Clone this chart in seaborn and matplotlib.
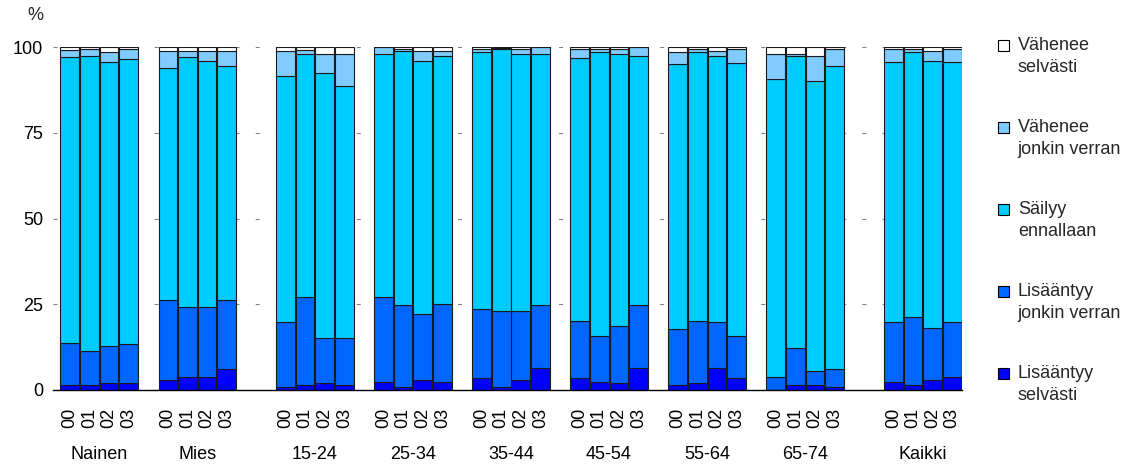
import numpy as np
import pandas as pd
import matplotlib
matplotlib.use("Agg")
import matplotlib.pyplot as plt
import matplotlib.transforms as mtransforms
from matplotlib.patches import Rectangle, Patch
from matplotlib.legend_handler import HandlerPatch
import seaborn as sns

# ---------------- data ----------------
groups = ["Nainen", "Mies", "15-24", "25-34", "35-44", "45-54", "55-64", "65-74", "Kaikki"]
years = ["00", "01", "02", "03"]

series_names = ["Lisääntyy\nselvästi", "Lisääntyy\njonkin verran", "Säilyy\nennallaan",
                "Vähenee\njonkin verran", "Vähenee\nselvästi"]

lisaantyy_selvasti = [1.5, 1.5, 1.9, 1.9,   2.9, 3.8, 3.8, 6.0,   0.8, 1.5, 1.9, 1.5,
                      2.3, 0.8, 2.9, 2.3,   3.4, 0.8, 2.9, 6.4,   3.4, 2.3, 1.9, 6.4,
                      1.5, 1.9, 6.4, 3.4,   0.0, 1.5, 1.5, 0.8,   2.4, 1.5, 2.9, 3.8]
lisaantyy_jonkin = [12.3, 9.9, 10.9, 11.4,  23.2, 20.4, 20.4, 20.1,  18.9, 25.7, 13.4, 13.8,
                    24.9, 24.0, 19.4, 22.9,  20.3, 22.3, 20.2, 18.3,  16.7, 13.4, 16.8, 18.3,
                    16.2, 18.2, 13.3, 12.3,  3.8, 10.8, 4.0, 5.2,     17.3, 19.7, 15.3, 15.9]
sailyy_ennallaan = [83.2, 86.0, 82.7, 83.1,  67.8, 72.8, 71.7, 68.4,  71.7, 70.7, 77.2, 73.3,
                    70.8, 74.0, 73.6, 72.2,  74.7, 76.2, 74.9, 73.3,  76.8, 82.7, 79.2, 72.7,
                    77.3, 78.3, 77.7, 79.7,  86.8, 85.1, 84.5, 88.5,  75.8, 77.2, 77.7, 75.8]
vahenee_jonkin = [2.1, 1.9, 2.9, 2.9,  5.0, 1.9, 3.0, 4.4,  7.4, 1.2, 5.5, 9.4,
                  2.0, 0.6, 2.9, 1.5,  0.9, 0.4, 1.3, 2.0,  2.4, 0.9, 1.4, 2.6,
                  3.5, 0.9, 1.5, 3.9,  7.3, 0.5, 7.4, 5.0,  3.8, 0.9, 3.0, 3.8]
vahenee_selvasti = [0.9, 0.7, 1.6, 0.7,  1.1, 1.1, 1.1, 1.1,  1.2, 0.9, 2.0, 2.0,
                    0.0, 0.6, 1.2, 1.1,  0.7, 0.3, 0.7, 0.0,  0.7, 0.7, 0.7, 0.0,
                    1.5, 0.7, 1.1, 0.7,  2.1, 2.1, 2.6, 0.5,  0.7, 0.7, 1.1, 0.7]

colors = ["#0000FF", "#0066FF", "#00CCFF", "#80CCFF", "#FFFFFF"]

# ---------------- layout ----------------
sns.set_theme(style="white")
plt.rcParams["font.family"] = ["Liberation Sans", "DejaVu Sans"]

W, H = 1127, 467
fig = plt.figure(figsize=(W / 100, H / 100), dpi=100)
ax = fig.add_axes([53 / W, 77 / H, (962 - 53) / W, 343 / H])

extra_gap_after = {"Mies", "65-74"}
positions, centers = [], []
slot = 0
for g in groups:
    positions += [slot + i for i in range(len(years))]
    centers.append(slot + (len(years) - 1) / 2)
    slot += len(years) + 1 + (1 if g in extra_gap_after else 0)
positions = np.array(positions, dtype=float)

all_series = [lisaantyy_selvasti, lisaantyy_jonkin, sailyy_ennallaan, vahenee_jonkin, vahenee_selvasti]
bottom = np.zeros(len(positions))
for vals, col in zip(all_series, colors):
    vals = np.array(vals, dtype=float)
    d = pd.DataFrame({"x": positions, "y": vals})
    sns.barplot(data=d, x="x", y="y", native_scale=True, width=0.95, color=col,
                saturation=1, edgecolor="#1a1a1a", linewidth=0.8, errorbar=None,
                bottom=bottom.copy(), ax=ax, zorder=2)
    bottom += vals

ax.set_xlim(-0.857, 45.5)
ax.set_ylim(0, 100)
ax.set_yticks([0, 25, 50, 75, 100])
ax.set_yticklabels(["0", "25", "50", "75", "100"])
ax.set_xticks(positions)
ax.set_xticklabels(years * len(groups), rotation=90)
ax.set_xlabel("")
ax.set_ylabel("")
ax.tick_params(axis="x", length=0, pad=13, labelsize=13, colors="black")
ax.tick_params(axis="y", length=0, pad=7, labelsize=13, colors="black")
for s in ["left", "top", "right"]:
    ax.spines[s].set_visible(False)
ax.spines["bottom"].set_color("black")
ax.spines["bottom"].set_linewidth(1.0)
ax.set_axisbelow(True)
ax.yaxis.grid(True, color="#808080", linestyle=(0, (3.6, 14.6)), linewidth=0.8)
ax.xaxis.grid(False)

trans = mtransforms.blended_transform_factory(ax.transData, ax.transAxes)
for c, g in zip(centers, groups):
    ax.text(c, -0.187, g, transform=trans, ha="center", va="center", fontsize=13, color="black")

fig.text(35 / W, 1 - 15 / H, "%", ha="center", va="center", fontsize=13)


class FirstLineHandler(HandlerPatch):
    def create_artists(self, legend, orig_handle, xdescent, ydescent, width, height, fontsize, trans):
        size = 0.6 * fontsize
        shift = 0.62 * fontsize
        r = Rectangle((-xdescent, -ydescent + (height - size) / 2 + shift), size, size,
                      facecolor=orig_handle.get_facecolor(), edgecolor="black", linewidth=0.8,
                      transform=trans)
        return [r]


handles = [Patch(facecolor=c) for c in colors][::-1]
labels = series_names[::-1]
leg = fig.legend(handles, labels, loc="upper left", bbox_to_anchor=(998 / W, 1 - 37 / H),
                 frameon=False, fontsize=13, labelspacing=2.37, handlelength=0.6,
                 handletextpad=0.5, borderpad=0, borderaxespad=0,
                 handler_map={Patch: FirstLineHandler()})
for t in leg.get_texts():
    t.set_linespacing(1.4)

fig.savefig("out.png", dpi=100)
